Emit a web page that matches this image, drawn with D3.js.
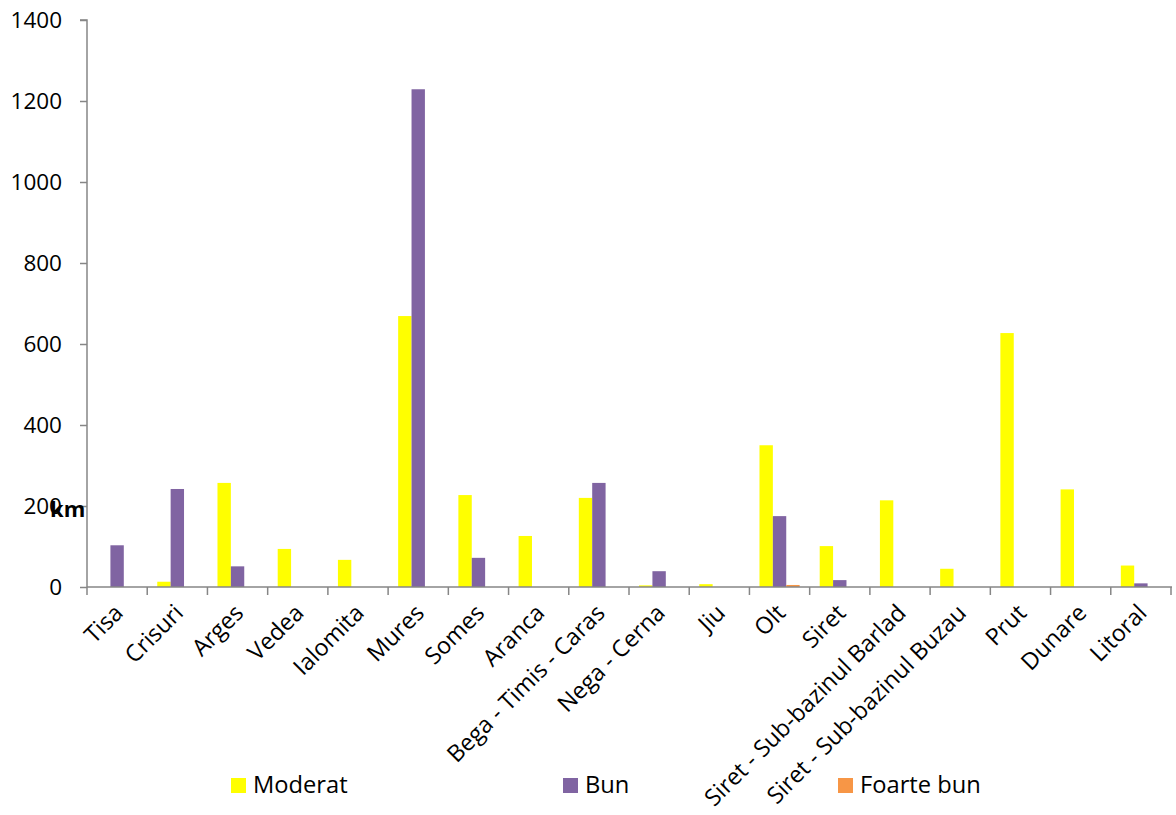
<!DOCTYPE html>
<html><head><meta charset="utf-8">
<script src="https://cdn.jsdelivr.net/npm/d3@7"></script>
<style>body{margin:0;background:#fff}svg{display:block;font-family:"Open Sans",sans-serif}</style>
</head><body><svg id="c" width="1176" height="815"></svg>
<script>
const categories = ["Tisa","Crisuri","Arges","Vedea","Ialomita","Mures","Somes","Aranca","Bega - Timis - Caras","Nega - Cerna","Jiu","Olt","Siret","Siret - Sub-bazinul Barlad","Siret - Sub-bazinul Buzau","Prut","Dunare","Litoral"];
const seriesNames = ["Moderat","Bun","Foarte bun"];
const moderat = [0,13,257,94,67,669,227,126,220,4,7,350,101,214,45,627,241,53];
const bun = [103,242,51,0,0,1229,72,0,257,39,0,175,17,0,0,0,0,9];
const foarteBun = [0,0,0,0,0,0,0,0,0,0,0,5,0,0,0,0,0,0];
const yTicks = [0,200,400,600,800,1000,1200,1400];
const colors = ["#FFFF00","#8064A2","#F79646"];
const series = [moderat,bun,foarteBun];

const svg = d3.select("#c");
const x0 = 87, x1 = 1171, yBase = 587, yTop = 20;
const x = d3.scaleBand().domain(categories).range([x0,x1]).paddingInner(0).paddingOuter(0);
const y = d3.scaleLinear().domain([0,1400]).range([yBase,yTop]);
const bw = x.bandwidth()/4.5;
const xs = d3.scaleBand().domain(seriesNames).range([0,3*bw]);

// bars
series.forEach((vals,si)=>{
  svg.append("g").selectAll("rect").data(vals.map((v,i)=>({v,c:categories[i]})).filter(d=>d.v>0)).join("rect")
    .attr("x",d=>x(d.c)+x.bandwidth()/2-1.5*bw+xs(seriesNames[si]))
    .attr("y",d=>y(d.v)).attr("width",bw).attr("height",d=>yBase-y(d.v))
    .attr("fill",colors[si]);
});

// y axis
const ya = svg.append("g").attr("transform",`translate(${x0},0)`)
  .call(d3.axisLeft(y).tickValues(yTicks).tickSize(7).tickPadding(18).tickFormat(d3.format("d")));
ya.select(".domain").attr("stroke","#868686").attr("stroke-width",1.5).attr("d",`M-7,${yTop}H0V${yBase}`);
ya.selectAll(".tick line").attr("stroke","#868686").attr("stroke-width",1.5);
ya.selectAll("text").attr("font-size",22.5).attr("fill","#000").attr("font-family","Open Sans");

// x axis
const xa = svg.append("g").attr("transform",`translate(0,${yBase})`);
xa.append("line").attr("x1",x0).attr("x2",x1+1).attr("y1",0).attr("y2",0).attr("stroke","#868686").attr("stroke-width",1.5);
xa.selectAll("line.t").data(categories.map(c=>x(c)).concat([x1])).join("line").attr("class","t")
  .attr("x1",d=>d).attr("x2",d=>d).attr("y1",0).attr("y2",8).attr("stroke","#868686").attr("stroke-width",1.5);
xa.selectAll("text").data(categories).join("text")
  .attr("transform",d=>`translate(${x(d)+x.bandwidth()/2-5},${15}) rotate(-45)`)
  .attr("text-anchor","end").attr("dy","0.75em").attr("font-size",23.3).attr("fill","#000").text(d=>d);

// y label
svg.append("text").attr("x",50).attr("y",517).attr("font-size",22).attr("font-weight","bold").text("km");

// legend
const legX = [231,563,838];
seriesNames.forEach((n,i)=>{
  svg.append("rect").attr("x",legX[i]).attr("y",778).attr("width",15).attr("height",15).attr("fill",colors[i]);
  svg.append("text").attr("x",legX[i]+22).attr("y",793).attr("font-size",23.7).attr("fill","#000").text(n);
});
</script></body></html>
